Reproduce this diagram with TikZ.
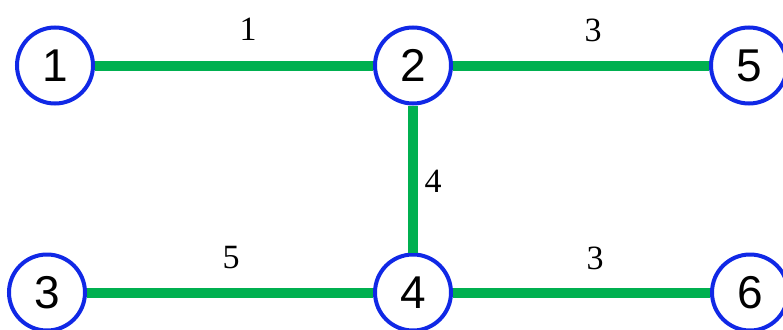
\documentclass[tikz,border=0pt]{standalone}
\usepackage{fontspec}
\setmainfont{Liberation Serif}
\newfontfamily\nodefont{Liberation Sans}
\definecolor{nodeblue}{RGB}{16,40,230}
\definecolor{edgegreen}{RGB}{0,176,80}
\tikzset{
  vertex/.style={circle, draw=nodeblue, line width=4pt, fill=white, minimum size=76pt, inner sep=0pt,
    font=\nodefont\fontsize{46}{46}\selectfont},
  link/.style={draw=edgegreen, line width=10pt},
  weight/.style={inner sep=0pt, font=\fontsize{34}{34}\selectfont}
}
\begin{document}
\begin{tikzpicture}[x=1pt,y=-1pt]
\useasboundingbox (0,0) rectangle (783,329);
\node[vertex] (n1) at (55,65.5) {1};
\node[vertex] (n2) at (413,65.5) {2};
\node[vertex] (n5) at (749,65.5) {5};
\node[vertex] (n3) at (47,292.5) {3};
\node[vertex] (n4) at (413,292.5) {4};
\node[vertex] (n6) at (750,292.5) {6};
\draw[link] (n1) -- (n2);
\draw[link] (n2) -- (n5);
\draw[link] (n2) -- (n4);
\draw[link] (n3) -- (n4);
\draw[link] (n4) -- (n6);
\node[weight] (w12) at (248,29) {1};
\node[weight] (w25) at (593,30) {3};
\node[weight] (w24) at (433,181) {4};
\node[weight] (w34) at (231,258) {5};
\node[weight] (w46) at (595,258) {3};
\end{tikzpicture}
\end{document}
